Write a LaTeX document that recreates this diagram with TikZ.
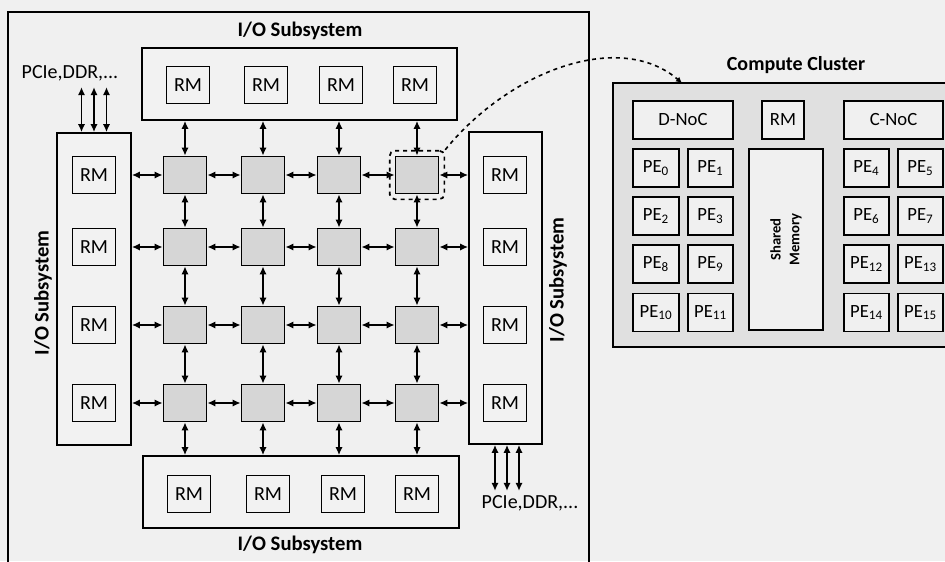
\documentclass[tikz,border=0pt]{standalone}
\usepackage{fontspec}
\setmainfont{Carlito}
\usetikzlibrary{arrows.meta,fit}

\begin{document}
\begin{tikzpicture}[x=0.75pt, y=-0.75pt,
    box/.style={draw, line width=1.3pt, inner sep=0pt},
    rmbox/.style={box, minimum width=32.25pt, minimum height=27.75pt, font=\fontsize{15}{18}\selectfont},
    router/.style={box, fill=black!16, minimum width=32.25pt, minimum height=27.75pt},
    iobox/.style={box, fill=black!5},
    pebox/.style={box, fill=black!6, minimum width=34pt, minimum height=28.5pt, font=\fontsize{14}{16}\selectfont},
    title/.style={font=\bfseries\fontsize{15.5}{18}\selectfont},
    ext/.style={font=\fontsize{15}{18}\selectfont},
    link/.style={{Latex[length=6pt,width=5.5pt]}-{Latex[length=6pt,width=5.5pt]}, line width=1.2pt},
]
    % 背景与边界
    \useasboundingbox (0,0) rectangle (945,561);
    \fill[black!6] (0,0) rectangle (945,561);
    \draw[line width=1.3pt] (8,12) rectangle (589,570);

    % I/O 子系统
    \node[iobox, minimum width=236.25pt, minimum height=54pt] (tbox) at (299.5,84) {};
    \node[iobox, minimum width=237pt, minimum height=54pt] (bbox) at (301,492) {};
    \node[iobox, minimum width=55.5pt, minimum height=234pt] (lbox) at (94,289) {};
    \node[iobox, minimum width=54.75pt, minimum height=234pt] (rbox) at (505.5,288) {};
    \node[title] (ttop) at (300,31) {I/O Subsystem};
    \node[title] (tbot) at (300,545) {I/O Subsystem};
    \node[title, rotate=90] (tleft) at (43,293) {I/O Subsystem};
    \node[title, rotate=90] (tright) at (558,280) {I/O Subsystem};

    % RM
    \foreach \c/\x in {1/188,2/266,3/341,4/415}
        \node[rmbox] (rmt\c) at (\x,85) {RM};
    \foreach \c/\x in {1/189,2/268,3/343,4/417}
        \node[rmbox] (rmb\c) at (\x,494) {RM};
    \foreach \r/\y in {1/175,2/247,3/325,4/403} {
        \node[rmbox] (rml\r) at (94,\y) {RM};
        \node[rmbox] (rmr\r) at (505,\y) {RM};
    }

    % 路由网格
    \foreach \r/\y in {1/175,2/247,3/325,4/403}
        \foreach \c/\x in {1/185,2/263,3/339,4/417}
            \node[router] (r\r\c) at (\x,\y) {};

    % 水平连接
    \foreach \r in {1,2,3,4} {
        \draw[link] (lbox.east |- r\r1.west) -- (r\r1.west);
        \draw[link] (r\r1.east) -- (r\r2.west);
        \draw[link] (r\r2.east) -- (r\r3.west);
        \draw[link] (r\r3.east) -- (r\r4.west);
        \draw[link] (r\r4.east) -- (rbox.west |- r\r4.east);
    }
    % 垂直连接
    \foreach \c in {1,2,3,4} {
        \draw[link] (tbox.south -| r1\c.north) -- (r1\c.north);
        \draw[link] (r1\c.south) -- (r2\c.north);
        \draw[link] (r2\c.south) -- (r3\c.north);
        \draw[link] (r3\c.south) -- (r4\c.north);
        \draw[link] (r4\c.south) -- (bbox.north -| r4\c.south);
    }

    % 外部接口
    \node[ext] (pcieA) at (70,73) {PCIe,DDR,...};
    \node[ext] (pcieB) at (530,503) {PCIe,DDR,...};
    \foreach \d in {-12.5,0,12.5}
        \draw[link] ([xshift=\d*0.75pt]lbox.north) -- ++(0,-45);
    \foreach \d in {-10.5,1.5,13.5}
        \draw[link] ([xshift=\d*0.75pt]rbox.south) -- ++(0,46);

    % 高亮路由
    \node[draw, dashed, rounded corners=4pt, line width=1.3pt, inner sep=3.75pt, fit=(r14)] (hl) {};

    % 计算簇
    \node[box, fill=black!12, minimum width=256.5pt, minimum height=198pt] (cc) at (784,215) {};
    \node[title, font=\bfseries\fontsize{15}{18}\selectfont] (tcc) at (796,65) {Compute Cluster};
    \coordinate (ccin) at (682,83);
    \draw[dashed, line width=1.2pt, -{Latex[length=4.5pt,width=4.5pt]}] (hl.north east) .. controls (510,70) and (620,30) .. (ccin);

    \node[pebox, minimum width=75pt] (dnoc) at (683,120) {D-NoC};
    \node[pebox, minimum width=31.5pt] (rmc) at (783,120) {RM};
    \node[pebox, minimum width=74.25pt] (cnoc) at (893.5,120) {C-NoC};
    \node[box, fill=black!6, minimum width=135.75pt, minimum height=55.5pt,
        font=\bfseries\fontsize{11}{14}\selectfont, align=center, rotate=90] (smem) at (786,239.5) {Shared\\Memory};
    \foreach \n/\x/\y in {0/656/168, 1/710.5/168, 2/656/216, 3/710.5/216,
                          8/656/264, 9/710.5/264, 10/656/312.5, 11/710.5/312.5,
                          4/866.5/168, 5/920.5/168, 6/866.5/216, 7/920.5/216,
                          12/866.5/264, 13/920.5/264, 14/866.5/312.5, 15/920.5/312.5}
        \node[pebox] (pe\n) at (\x,\y) {PE\textsubscript{\n}};
\end{tikzpicture}
\end{document}
